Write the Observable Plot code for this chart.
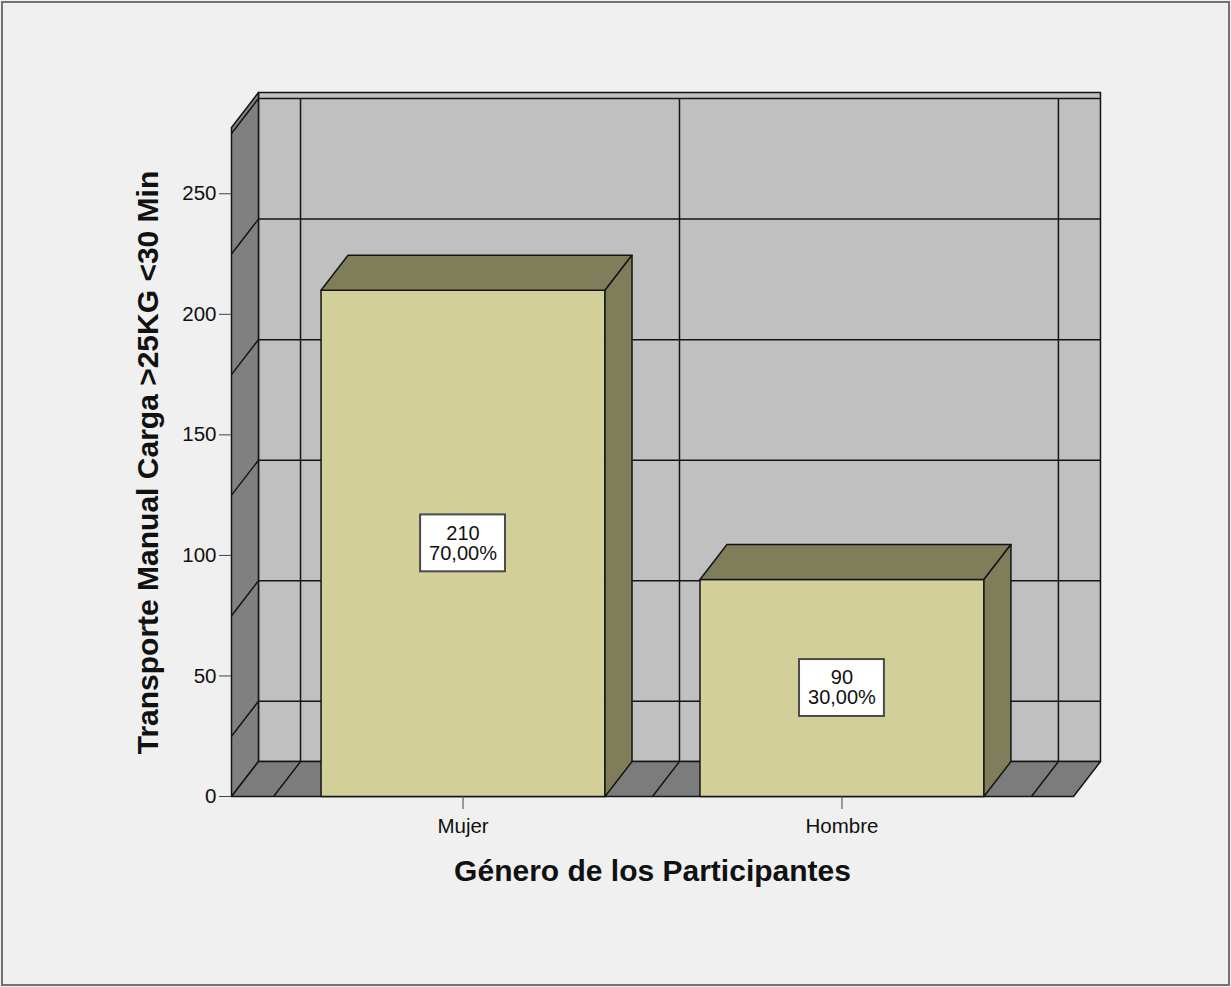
<!DOCTYPE html>
<html>
<head>
<meta charset="utf-8">
<script src="https://cdn.jsdelivr.net/npm/d3@7"></script>
<script src="https://cdn.jsdelivr.net/npm/@observablehq/plot@0.6"></script>
<style>
  body { margin: 0; background: #f0f0f0; }
  #chart svg { display: block; outline: 2px solid #727272; outline-offset: -3px; }
</style>
</head>
<body>
<div id="chart"></div>
<script>
// Counts of participants by gender
const categories = ["Mujer", "Hombre"];
const counts = [210, 90];
const yTicks = [0, 50, 100, 150, 200, 250];
const gridValues = [25, 75, 125, 175, 225];
const yTitle = "Transporte Manual Carga >25KG <30 Min";
const xTitle = "Género de los Participantes";

const total = d3.sum(counts);
const pct = v => (v / total * 100).toFixed(2).replace(".", ",") + "%";

// 3D box geometry in data units (x: category index, y: count)
const Y_MAX = 275, PAD = 0.111, HALF = 0.3747, DX = 0.0712, DY = 14.5, CEIL = 2.5;
const X0 = -0.5 - PAD, X1 = categories.length - 0.5 + PAD;
const bounds = d3.range(categories.length + 1).map(i => i - 0.5);

const poly = (id, pts) => pts.map(([x, y]) => ({id, x, y}));
const face = (data, fill) => Plot.line(data, {
  x: "x", y: "y", z: "id", fill, stroke: "#151515", strokeWidth: 1.5, curve: "linear-closed"
});
const seg = (data) => Plot.link(data, {
  x1: "x1", y1: "y1", x2: "x2", y2: "y2", stroke: "#151515", strokeWidth: 1.5
});

// Walls and floor
const backWall = poly("back", [[X0 + DX, DY], [X1 + DX, DY], [X1 + DX, Y_MAX + DY + CEIL], [X0 + DX, Y_MAX + DY + CEIL]]);
const leftWall = poly("left", [[X0, 0], [X0 + DX, DY], [X0 + DX, Y_MAX + DY + CEIL], [X0, Y_MAX + CEIL]]);
const floor = poly("floor", [[X0, 0], [X1, 0], [X1 + DX, DY], [X0 + DX, DY]]);

const backGrid = gridValues.map(g => ({x1: X0 + DX, y1: g + DY, x2: X1 + DX, y2: g + DY}))
  .concat(bounds.map(b => ({x1: b + DX, y1: DY, x2: b + DX, y2: Y_MAX + DY})))
  .concat([{x1: X0 + DX, y1: Y_MAX + DY, x2: X1 + DX, y2: Y_MAX + DY}]);
const sideGrid = gridValues.map(g => ({x1: X0, y1: g, x2: X0 + DX, y2: g + DY}))
  .concat(bounds.map(b => ({x1: b, y1: 0, x2: b + DX, y2: DY})))
  .concat([{x1: X0, y1: Y_MAX, x2: X0 + DX, y2: Y_MAX + DY}]);

// Bars
const bars = counts.map((v, i) => ({i, v, name: categories[i]}));
const fronts = bars.flatMap(({i, v}) => poly("f" + i,
  [[i - HALF, 0], [i + HALF, 0], [i + HALF, v], [i - HALF, v]]));
const tops = bars.flatMap(({i, v}) => poly("t" + i,
  [[i - HALF, v], [i + HALF, v], [i + HALF + DX, v + DY], [i - HALF + DX, v + DY]]));
const sides = bars.flatMap(({i, v}) => poly("s" + i,
  [[i + HALF, 0], [i + HALF + DX, DY], [i + HALF + DX, v + DY], [i + HALF, v]]));

const BOX_W = 0.112, BOX_H = 11.8;

const chart = Plot.plot({
  width: 1231,
  height: 987,
  marginLeft: 231,
  marginRight: 158,
  marginTop: 133,
  marginBottom: 191,
  style: {background: "#f0f0f0", fontFamily: "'Liberation Sans', Arial, sans-serif", color: "#111"},
  x: {domain: [X0, X1], axis: null},
  y: {domain: [0, Y_MAX], axis: null},
  marks: [
    face(backWall, "#c0c0c0"),
    seg(backGrid),
    face(leftWall, "#808080"),
    face(floor, "#7c7c7c"),
    seg(sideGrid),
    face(fronts, "#d3cf99"),
    face(tops, "#807d5b"),
    face(sides, "#807d5b"),
    Plot.rect(bars, {
      x1: d => d.i - BOX_W, x2: d => d.i + BOX_W,
      y1: d => d.v / 2 - BOX_H, y2: d => d.v / 2 + BOX_H,
      fill: "white", stroke: "#4a4a4a", strokeWidth: 2
    }),
    Plot.text(bars, {
      x: "i", y: d => d.v / 2, text: d => `${d.v}\n${pct(d.v)}`,
      fontSize: 20, lineHeight: 1, fill: "#111"
    }),
    Plot.axisY({ticks: yTicks, tickSize: 12, tickPadding: 3, fontSize: 20.5, label: null, stroke: "#444"}),
    Plot.axisX({ticks: d3.range(categories.length), tickFormat: i => categories[i],
      tickSize: 13, tickPadding: 9, fontSize: 20.5, label: null, stroke: "#444"}),
    Plot.text([yTitle], {frameAnchor: "left", rotate: -90, dx: -83, dy: -2.5,
      textAnchor: "middle", lineAnchor: "middle",
      fontSize: 30, fontWeight: "bold", fill: "#111"}),
    Plot.text([xTitle], {frameAnchor: "bottom", dy: 75, lineAnchor: "middle",
      fontSize: 30, fontWeight: "bold", fill: "#111"})
  ]
});

document.getElementById("chart").append(chart);
</script>
</body>
</html>
